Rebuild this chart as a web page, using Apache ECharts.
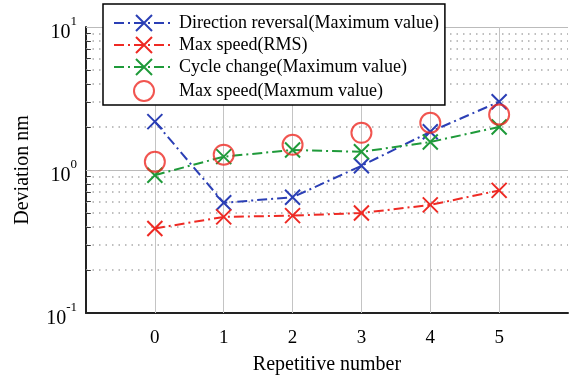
<!DOCTYPE html>
<html><head><meta charset="utf-8">
<script src="https://cdn.jsdelivr.net/npm/echarts@6/dist/echarts.min.js"></script>
<style>html,body{margin:0;padding:0;background:#fff}#c{width:572px;height:378px}</style>
</head><body><div id="c"></div>
<script>
const xValues = [0, 1, 2, 3, 4, 5];
const directionReversal = [2.18, 0.59, 0.645, 1.07, 1.85, 3.0];
const maxSpeedRMS = [0.39, 0.47, 0.48, 0.50, 0.57, 0.72];
const cycleChange = [0.92, 1.24, 1.38, 1.34, 1.57, 2.0];
const maxSpeedMax = [1.14, 1.28, 1.50, 1.82, 2.14, 2.44];
const seriesNames = ['Direction reversal(Maximum value)', 'Max speed(RMS)', 'Cycle change(Maximum value)', 'Max speed(Maxmum value)'];
const minorGrid = [0.2,0.3,0.4,0.5,0.6,0.7,0.8,0.9,2,3,4,5,6,7,8,9];
const majorGridY = [1, 10];

const FONT = 'Liberation Serif';
const X_PATH = 'path://M0,0L20,20M20,0L0,20';
const dashDot = [10, 4, 2, 4];

function pair(a, b) { return a.map((v, i) => [v, b[i]]); }
function lineSeries(name, vals, color) {
  return {
    name, type: 'line', data: pair(xValues, vals),
    symbol: X_PATH, symbolSize: 15,
    itemStyle: { color: color, borderColor: color, borderWidth: 2 },
    lineStyle: { color: color, width: 2, type: dashDot },
    z: 5
  };
}
const chart = echarts.init(document.getElementById('c'));
chart.setOption({
  animation: false,
  grid: { left: 86, right: 4, top: 27, bottom: 65, containLabel: false, outerBoundsMode: 'none' },
  legend: {
    orient: 'vertical', left: 103, top: 4,
    padding: [10, 6, 3, 10], itemGap: 4, itemWidth: 60, itemHeight: 20,
    backgroundColor: '#fff', borderColor: '#000', borderWidth: 1.5,
    textStyle: { fontFamily: FONT, fontSize: 18, color: '#000' },
    data: seriesNames, z: 20
  },
  xAxis: {
    type: 'value', min: -1, max: 6, interval: 1,
    name: 'Repetitive number', nameLocation: 'middle', nameGap: 42,
    nameTextStyle: { fontFamily: FONT, fontSize: 20, color: '#000' },
    axisLine: { onZero: false, lineStyle: { color: '#222', width: 2 } },
    axisTick: { inside: true, length: 4, customValues: xValues, lineStyle: { color: '#222' } },
    axisLabel: { customValues: xValues, fontFamily: FONT, fontSize: 19, color: '#000', margin: 16 },
    splitLine: { show: false }
  },
  yAxis: {
    type: 'log', logBase: 10, min: 0.1, max: 10,
    name: 'Deviation nm', nameLocation: 'middle', nameGap: 53,
    nameTextStyle: { fontFamily: FONT, fontSize: 20, color: '#000' },
    axisLine: { onZero: false, lineStyle: { color: '#222', width: 2 } },
    axisTick: { inside: true, length: 5, lineStyle: { color: '#222' } },
    axisLabel: {
      margin: 9,
      formatter: v => '{b|10}{s|' + Math.round(Math.log10(v)) + '}',
      rich: {
        b: { fontFamily: FONT, fontSize: 20, color: '#000', padding: [12, 0, 0, 0] },
        s: { fontFamily: FONT, fontSize: 13, color: '#000', padding: [0, 0, 11, 0] }
      }
    },
    splitLine: { show: false }
  },
  series: [
    {
      name: 'grid', type: 'line', data: [], silent: true, z: 1,
      markLine: {
        silent: true, symbol: 'none', label: { show: false }, animation: false,
        data: [
          ...minorGrid.map(v => ({ yAxis: v, lineStyle: { color: '#aaa', type: [1.5, 5], width: 1.5 } })),
          ...majorGridY.map(v => ({ yAxis: v, lineStyle: { color: '#bbb', type: 'solid', width: 1 } })),
          ...xValues.map(v => ({ xAxis: v, lineStyle: { color: '#c4c4c4', type: 'solid', width: 1 } })),
          ...minorGrid.map(v => [{ coord: [-1, v], lineStyle: { color: '#333', type: 'solid', width: 1 } }, { coord: [-0.93, v] }])
        ]
      }
    },
    lineSeries(seriesNames[0], directionReversal, '#2b3fb5'),
    lineSeries(seriesNames[1], maxSpeedRMS, '#ee2a24'),
    lineSeries(seriesNames[2], cycleChange, '#1f9a3a'),
    {
      name: seriesNames[3], type: 'scatter', data: pair(xValues, maxSpeedMax),
      symbol: 'circle', symbolSize: 20, z: 6,
      itemStyle: { color: 'rgba(0,0,0,0)', borderColor: '#ee2a24', borderWidth: 2 }
    }
  ]
});
</script></body></html>
